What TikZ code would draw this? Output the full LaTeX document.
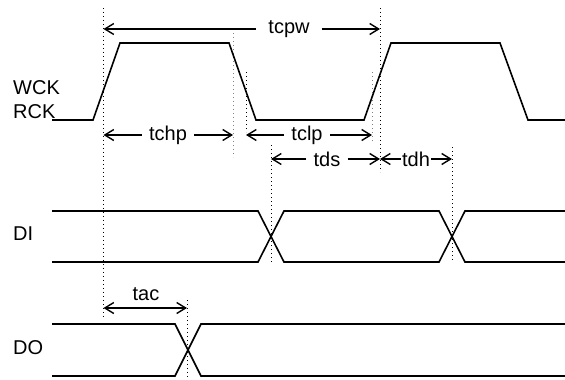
\documentclass[tikz,border=0pt]{standalone}
\usepackage{fontspec}
\setmainfont{Liberation Sans}
\usetikzlibrary{arrows.meta}
\begin{document}
\begin{tikzpicture}[x=1pt,y=-1pt,
  wave/.style={line width=1.6pt,line join=miter},
  guide/.style={line width=0.9pt,dash pattern=on 1.2pt off 2.8pt},
  guidegray/.style={guide,gray},
  dimline/.style={line width=1.4pt,-{Straight Barb[length=9pt,width=11pt,line width=1.4pt]}},
  lbl/.style={font=\fontsize{20}{22}\selectfont,inner ysep=0pt},
  sig/.style={font=\fontsize{20}{22}\selectfont,anchor=west,inner sep=0pt}]
\useasboundingbox (0,0) rectangle (565,380);
% signal names
\node[sig] (wck) at (13,88) {WCK};
\node[sig] (rck) at (13,112) {RCK};
\node[sig] (di) at (13,234) {DI};
\node[sig] (do) at (13,348) {DO};
% guides
\draw[guide] (103,8) -- (103,318);
\draw[guidegray] (233,33) -- (233,157);
\draw[guide] (246,72) -- (246,132);
\draw[guide] (271,145) -- (271,262);
\draw[guidegray] (372,72) -- (372,142);
\draw[guide] (380,8) -- (380,172);
\draw[guide] (452,147) -- (452,262);
\draw[guide] (187,300) -- (187,380);
% clock
\draw[wave] (52,120) -- (93,120) -- (120,43) -- (229,43) -- (256,120) -- (364,120) -- (391,43) -- (500,43) -- (528,120) -- (565,120);
% DI
\draw[wave] (52,211) -- (258,211) -- (284,262) -- (439,262) -- (465,211) -- (565,211);
\draw[wave] (52,262) -- (258,262) -- (284,211) -- (439,211) -- (465,262) -- (565,262);
% DO
\draw[wave] (52,324) -- (175,324) -- (201,376) -- (565,376);
\draw[wave] (52,376) -- (175,376) -- (201,324) -- (565,324);
% dimension labels and end points
\node[lbl,inner xsep=12pt] (tcpw) at (289,29) {tcpw};
\coordinate (tcpwL) at (103.5,29);
\coordinate (tcpwR) at (380,29);
\draw[dimline] (tcpw) -- (tcpwL);
\draw[dimline] (tcpw) -- (tcpwR);
\node[lbl,inner xsep=7pt] (tchp) at (168,135) {tchp};
\coordinate (tchpL) at (103.5,135);
\coordinate (tchpR) at (233,135);
\draw[dimline] (tchp) -- (tchpL);
\draw[dimline] (tchp) -- (tchpR);
\node[lbl,inner xsep=7pt] (tclp) at (307,135) {tclp};
\coordinate (tclpL) at (246,135);
\coordinate (tclpR) at (372,135);
\draw[dimline] (tclp) -- (tclpL);
\draw[dimline] (tclp) -- (tclpR);
\node[lbl,inner xsep=7pt] (tds) at (327,159) {tds};
\coordinate (tdsL) at (271,159);
\coordinate (tdsR) at (380,159);
\draw[dimline] (tds) -- (tdsL);
\draw[dimline] (tds) -- (tdsR);
\node[lbl,inner xsep=1pt] (tdh) at (416,159) {tdh};
\coordinate (tdhL) at (380,159);
\coordinate (tdhR) at (452,159);
\draw[dimline] (tdh) -- (tdhL);
\draw[dimline] (tdh) -- (tdhR);
\coordinate (tacL) at (103.5,308);
\coordinate (tacR) at (187,308);
\draw[dimline,{Straight Barb[length=9pt,width=11pt,line width=1.4pt]}-{Straight Barb[length=9pt,width=11pt,line width=1.4pt]}] (tacL) -- (tacR);
\node[lbl] (tac) at (146,294) {tac};
\end{tikzpicture}
\end{document}
